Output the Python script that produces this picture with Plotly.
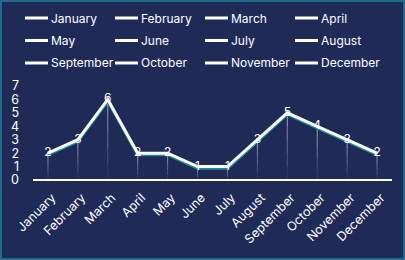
import plotly.graph_objects as go

months = ["January", "February", "March", "April", "May", "June",
          "July", "August", "September", "October", "November", "December"]
values = [2, 3, 6, 2, 2, 1, 1, 3, 5, 4, 3, 2]
y_ticks = [0, 1, 2, 3, 4, 5, 6, 7]

BG = "#1F2A57"
BORDER = "#1C6E8C"
FONT = "Inter"

W, H = 405, 260
ml, mr, mt, mb = 33, 13, 86, 80
pw, ph = W - ml - mr, H - mt - mb


def px_x(x):
    return (x - ml) / pw


def px_y(y):
    return (H - mb - y) / ph


fig = go.Figure()

# drop lines (gradient approximation: stacked segments)
steps = 5
for s in range(steps):
    xs, ys = [], []
    for m, v in zip(months, values):
        xs += [m, m, None]
        ys += [v * s / steps, v * (s + 1) / steps, None]
    fig.add_trace(go.Scatter(x=xs, y=ys, mode="lines", showlegend=False,
                             hoverinfo="skip",
                             line=dict(color=f"rgba(255,255,255,{0.08 + 0.12 * s:.2f})", width=1)))

# shadow line
fig.add_trace(go.Scatter(x=months, y=[v - 0.12 for v in values], mode="lines",
                         showlegend=False, hoverinfo="skip",
                         line=dict(color="#1B8A9A", width=3)))
# main line
fig.add_trace(go.Scatter(x=months, y=values, mode="lines+text", text=[str(v) for v in values],
                         textposition="middle center",
                         textfont=dict(color="white", size=12, family=FONT),
                         showlegend=False,
                         line=dict(color="white", width=3)))

# manual legend: 4 columns x 3 rows
col_x = [25, 115, 205, 295]
row_y = [18, 40.5, 63]
for i, m in enumerate(months):
    cx = col_x[i % 4]
    cy = row_y[i // 4]
    fig.add_shape(type="line", xref="paper", yref="paper",
                  x0=px_x(cx), x1=px_x(cx + 23), y0=px_y(cy), y1=px_y(cy),
                  line=dict(color="white", width=3))
    fig.add_annotation(xref="paper", yref="paper", x=px_x(cx + 24), y=px_y(cy),
                       xanchor="left", yanchor="middle", text=m, showarrow=False,
                       font=dict(size=12, color="white", family=FONT))

# border
fig.add_shape(type="rect", xref="paper", yref="paper",
              x0=px_x(1), x1=px_x(W - 1), y0=px_y(H - 1), y1=px_y(1),
              line=dict(color=BORDER, width=2), fillcolor="rgba(0,0,0,0)", layer="below")

fig.update_layout(
    width=W, height=H,
    margin=dict(l=ml, r=mr, t=mt, b=mb, pad=0),
    paper_bgcolor=BG, plot_bgcolor=BG,
    font=dict(family=FONT, color="white", size=12),
    showlegend=False,
    xaxis=dict(type="category", categoryorder="array", categoryarray=months,
               range=[-0.5, 11.5], showgrid=False, zeroline=False,
               showline=False, tickangle=-45, tickfont=dict(size=12.5),
               ticks="", ticklabelstandoff=7, ticklabelshift=4),
    yaxis=dict(range=[0, 7], tickvals=y_ticks, showgrid=False, zeroline=True,
               zerolinecolor="white", zerolinewidth=1.5, showline=False,
               tickfont=dict(size=12.5), ticks="", ticklabelstandoff=13),
)

fig.write_html("out.html")
